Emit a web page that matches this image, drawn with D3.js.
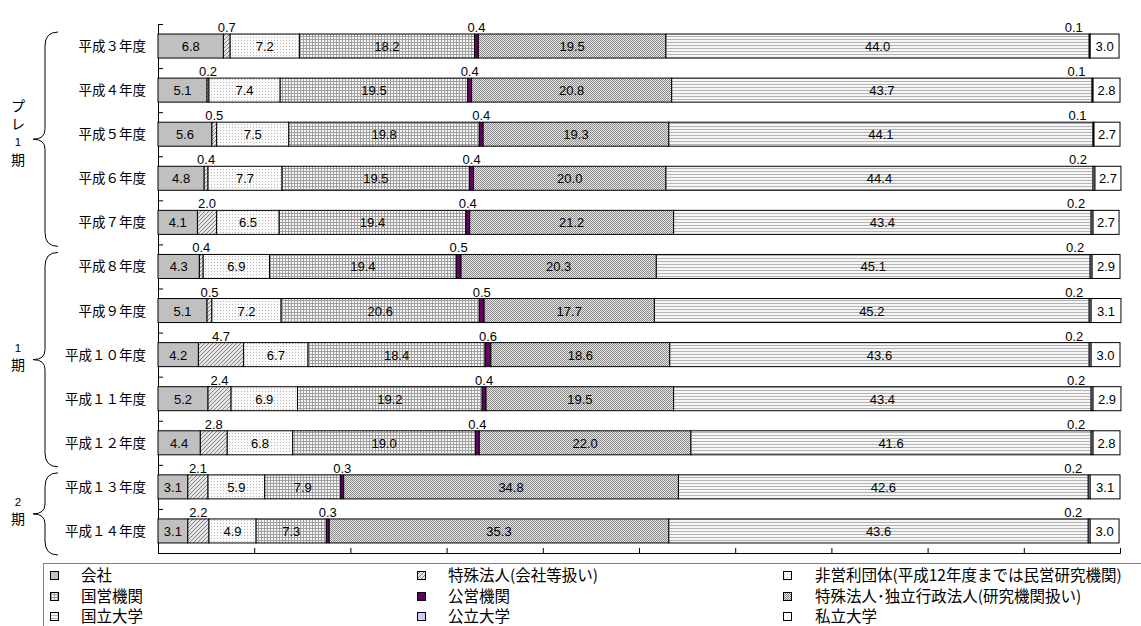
<!DOCTYPE html>
<html><head><meta charset="utf-8">
<script src="https://cdn.jsdelivr.net/npm/d3@7"></script>
<style>
html,body{margin:0;padding:0;background:#fff;}
svg{display:block;}
text{font-family:"Liberation Sans",Arial,sans-serif;}
.jp{font-family:"Noto Sans CJK JP","Noto Sans CJK SC",sans-serif;}
</style></head><body>
<svg id="c" width="1141" height="626"></svg>
<script>
// ---- data ----
const categories = ["平成３年度","平成４年度","平成５年度","平成６年度","平成７年度","平成８年度","平成９年度","平成１０年度","平成１１年度","平成１２年度","平成１３年度","平成１４年度"];
const seriesNames = ["会社","特殊法人(会社等扱い)","非営利団体(平成12年度までは民営研究機関)","国営機関","公営機関","特殊法人･独立行政法人(研究機関扱い)","国立大学","公立大学","私立大学"];
const kaisha      = [6.8,5.1,5.6,4.8,4.1,4.3,5.1,4.2,5.2,4.4,3.1,3.1];
const tokushuKaisha = [0.7,0.2,0.5,0.4,2.0,0.4,0.5,4.7,2.4,2.8,2.1,2.2];
const hieiri      = [7.2,7.4,7.5,7.7,6.5,6.9,7.2,6.7,6.9,6.8,5.9,4.9];
const kokuei      = [18.2,19.5,19.8,19.5,19.4,19.4,20.6,18.4,19.2,19.0,7.9,7.3];
const koei        = [0.4,0.4,0.4,0.4,0.4,0.5,0.5,0.6,0.4,0.4,0.3,0.3];
const tokushuKenkyu = [19.5,20.8,19.3,20.0,21.2,20.3,17.7,18.6,19.5,22.0,34.8,35.3];
const kokuritsu   = [44.0,43.7,44.1,44.4,43.4,45.1,45.2,43.6,43.4,41.6,42.6,43.6];
const koritsu     = [0.1,0.1,0.1,0.2,0.2,0.2,0.2,0.2,0.2,0.2,0.2,0.2];
const shiritsu    = [3.0,2.8,2.7,2.7,2.7,2.9,3.1,3.0,2.9,2.8,3.1,3.0];
const seriesValues = [kaisha,tokushuKaisha,hieiri,kokuei,koei,tokushuKenkyu,kokuritsu,koritsu,shiritsu];
const groups = [
  {label:["プ","レ","1","期"], from:0, to:4},
  {label:["1","期"], from:5, to:9},
  {label:["2","期"], from:10, to:11}
];
const xTicks = [0,10,20,30,40,50,60,70,80,90,100];

// ---- styles ----
const fills = ["#c0c0c0","url(#pDiag)","url(#pDots)","url(#pGrid)","#660066","url(#pDense)","url(#pHl)","#ccccff","#ffffff"];
const labelAbove = [false,true,false,false,true,false,false,true,false];
const labelDx = [0,0,0,0,0,0,0,-16,0];

const svg = d3.select("#c");
const defs = svg.append("defs");
function pat(id,w,h,draw){const p=defs.append("pattern").attr("id",id).attr("patternUnits","userSpaceOnUse").attr("width",w).attr("height",h);draw(p);}
pat("pDiag",4,4,p=>{p.append("rect").attr("width",4).attr("height",4).attr("fill","#e4e4e4");
  p.append("path").attr("d","M-1,1 L1,-1 M0,4 L4,0 M3,5 L5,3").attr("stroke","#707070").attr("stroke-width",0.8);});
pat("pDots",3,3,p=>{p.append("rect").attr("width",3).attr("height",3).attr("fill","#fafafa");
  p.append("rect").attr("x",1).attr("y",1).attr("width",1).attr("height",1).attr("fill","#b8b8b8");});
pat("pGrid",3,3,p=>{p.append("rect").attr("width",3).attr("height",3).attr("fill","#f6f6f6");
  p.append("rect").attr("width",3).attr("height",1).attr("fill","#a0a0a0");
  p.append("rect").attr("width",1).attr("height",3).attr("fill","#a0a0a0");});
pat("pDense",2,2,p=>{p.append("rect").attr("width",2).attr("height",2).attr("fill","#e6e6e6");
  p.append("rect").attr("width",1).attr("height",1).attr("fill","#8a8a8a");
  p.append("rect").attr("x",1).attr("y",1).attr("width",1).attr("height",1).attr("fill","#8a8a8a");});
pat("pHl",3,3,p=>{p.append("rect").attr("width",3).attr("height",3).attr("fill","#f6f6f6");
  p.append("rect").attr("width",3).attr("height",1).attr("fill","#b4b4b4");});

// ---- scales ----
const pLeft=158, pRight=1120, pTop=24, pBottom=553;
const x = d3.scaleLinear().domain([0,100]).range([pLeft,pRight]);
const y = d3.scaleBand().domain(categories).range([pTop,pBottom]).paddingInner(0.455).paddingOuter(0.2275);
const yb = d3.scaleLinear().domain([0,categories.length]).range([pTop,pBottom]);

// stack
const rows = categories.map((c,i)=>{const o={cat:c}; seriesNames.forEach((s,j)=>o[s]=seriesValues[j][i]); return o;});
const stacked = d3.stack().keys(seriesNames)(rows);

// axes
svg.append("g").attr("transform",`translate(${pLeft},0)`)
  .call(d3.axisLeft(yb).ticks(categories.length).tickSize(-5).tickFormat(""))
  .call(g=>{g.select(".domain").attr("stroke","#000");g.selectAll(".tick line").attr("stroke","#000");});
svg.append("g").attr("transform",`translate(0,${pBottom})`)
  .call(d3.axisBottom(x).tickValues(xTicks).tickSize(-5).tickFormat(""))
  .call(g=>{g.select(".domain").attr("stroke","#000");g.selectAll(".tick line").attr("stroke","#000");});

// bars
const bh = y.bandwidth();
stacked.forEach((layer,j)=>{
  const g = svg.append("g");
  g.selectAll("rect").data(layer).join("rect")
    .attr("x",d=>x(d[0])).attr("y",d=>y(d.data.cat))
    .attr("width",d=>Math.max(0,x(d[1])-x(d[0]))).attr("height",bh)
    .attr("fill",fills[j]).attr("stroke","#000").attr("stroke-width",1);
});
// labels
stacked.forEach((layer,j)=>{
  svg.append("g").selectAll("text").data(layer).join("text")
    .attr("x",d=>(x(d[0])+x(d[1]))/2+labelDx[j])
    .attr("y",d=>labelAbove[j]? y(d.data.cat)-2 : y(d.data.cat)+bh/2+5)
    .attr("text-anchor","middle").attr("font-size","13px").attr("fill","#000")
    .text(d=>(d[1]-d[0]).toFixed(1));
});

// category labels
svg.append("g").selectAll("text").data(categories).join("text")
  .attr("class","jp").attr("x",146).attr("y",d=>y(d)+bh/2+5)
  .attr("text-anchor","end").attr("font-size","13.5px").text(d=>d);

// braces + group labels
groups.forEach(gr=>{
  const t = y(categories[gr.from]) - 2, b = y(categories[gr.to]) + bh + 12;
  const m = (t+b)/2, xr = 58, xv = 45, xt = 33;
  svg.append("path").attr("fill","none").attr("stroke","#000").attr("stroke-width",1)
    .attr("d",`M${xr},${t} Q${xv},${t} ${xv},${t+14} L${xv},${m-10} Q${xv},${m} ${xt},${m} Q${xv},${m} ${xv},${m+10} L${xv},${b-14} Q${xv},${b} ${xr},${b}`);
  const n = gr.label.length;
  const offs = n > 2 ? [-33,-15,3,21] : [-12,5];
  gr.label.forEach((ch,k)=>{
    const isNum = /[0-9]/.test(ch);
    svg.append("text").attr("class", isNum ? null : "jp").attr("x",18).attr("y",m + offs[k] + (isNum?4:5))
      .attr("text-anchor","middle").attr("font-size",isNum?"11.5px":"14px").text(ch);
  });
});

// legend
svg.append("rect").attr("x",43.5).attr("y",563.5).attr("width",1200).attr("height",100)
  .attr("fill","none").attr("stroke","#808080").attr("stroke-width",1);
const lgX = [50,417,783], lgT = [81,448,815], lgY = [575,596,616];
seriesNames.forEach((s,j)=>{
  const col = j%3, row = Math.floor(j/3);
  svg.append("rect").attr("x",lgX[col]+0.5).attr("y",lgY[row]-3.5).attr("width",8).attr("height",8)
    .attr("fill",fills[j]).attr("stroke","#000").attr("stroke-width",1);
  svg.append("text").attr("class","jp").attr("x",lgT[col]).attr("y",lgY[row]+5.5)
    .attr("font-size","15.5px").text(s);
});
</script></body></html>
